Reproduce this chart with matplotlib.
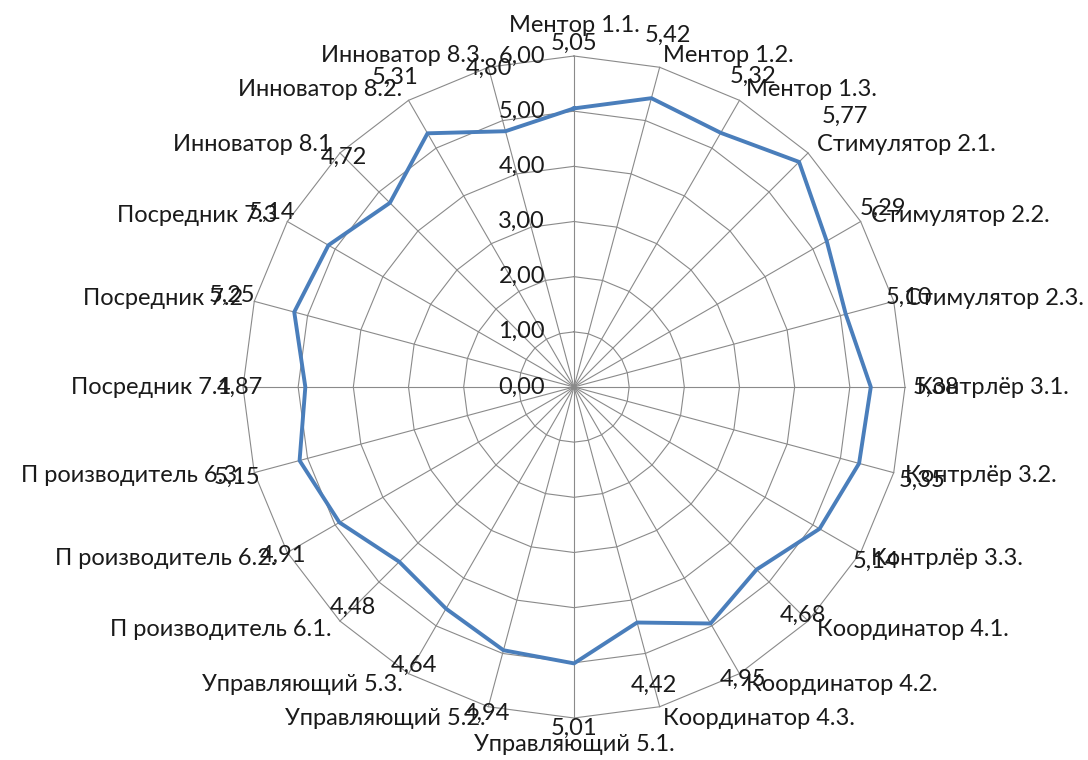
import numpy as np
import matplotlib
matplotlib.use("Agg")
import matplotlib.pyplot as plt

categories = [
    "Ментор 1.1.", "Ментор 1.2.", "Ментор 1.3.",
    "Стимулятор 2.1.", "Стимулятор 2.2.", "Стимулятор 2.3.",
    "Контрлёр 3.1.", "Контрлёр 3.2.", "Контрлёр 3.3.",
    "Координатор 4.1.", "Координатор 4.2.", "Координатор 4.3.",
    "Управляющий 5.1.", "Управляющий 5.2.", "Управляющий 5.3.",
    "П роизводитель 6.1.", "П роизводитель 6.2.", "П роизводитель 6.3.",
    "Посредник 7.1", "Посредник 7.2", "Посредник 7.3",
    "Инноватор 8.1", "Инноватор 8.2.", "Инноватор 8.3.",
]
values = [
    5.05, 5.42, 5.32,
    5.77, 5.29, 5.10,
    5.38, 5.35, 5.14,
    4.68, 4.95, 4.42,
    5.01, 4.94, 4.64,
    4.48, 4.91, 5.15,
    4.87, 5.25, 5.14,
    4.72, 5.31, 4.80,
]
ring_values = [0, 1, 2, 3, 4, 5, 6]
ring_labels = ["0,00", "1,00", "2,00", "3,00", "4,00", "5,00", "6,00"]

plt.rcParams["font.family"] = ["Lato", "DejaVu Sans"]
FONT_SIZE = 17
TEXT_COLOR = "#1a1a1a"
GRID_COLOR = "#8a8a8a"
LINE_COLOR = "#4a7ebb"

fig = plt.figure(figsize=(10.88, 7.6), dpi=100)
fig.patch.set_facecolor("white")

# polar axes centred on the web, radius = value 6
cx, cy, rad = 574 / 1088, 1 - 387 / 760, 331
ax = fig.add_axes([cx - rad / 1088, cy - rad / 760, 2 * rad / 1088, 2 * rad / 760],
                  projection="polar")
ax.set_theta_zero_location("N")
ax.set_theta_direction(-1)
ax.set_ylim(0, 6)
ax.axis("off")

n = len(categories)
theta = np.arange(n) * 2 * np.pi / n
theta_closed = np.append(theta, theta[0])

# polygonal rings and spokes
for r in ring_values[1:]:
    ax.plot(theta_closed, [r] * (n + 1), color=GRID_COLOR, lw=0.8, clip_on=False, zorder=1)
for t in theta:
    ax.plot([t, t], [0, ring_values[-1]], color=GRID_COLOR, lw=0.8, clip_on=False, zorder=1)

# data series
vals_closed = np.append(values, values[0])
ax.plot(theta_closed, vals_closed, color=LINE_COLOR, lw=2.8, clip_on=False, zorder=3,
        solid_joinstyle="round")

# ring value labels on the top spoke
for r, lbl in zip(ring_values, ring_labels):
    ax.annotate(lbl, xy=(0, r), xytext=(-29, 0), textcoords="offset pixels",
                ha="right", va="center", fontsize=FONT_SIZE, color=TEXT_COLOR,
                annotation_clip=False, zorder=4)

# category labels outside the outer ring
for t, cat in zip(theta, categories):
    s, c = np.sin(t), np.cos(t)
    if abs(s) < 0.1:
        ha = "center"
        va = "bottom" if c > 0 else "top"
        d = 20 if c > 0 else 16
    else:
        ha = "left" if s > 0 else "right"
        va = "center"
        d = 12
    ax.annotate(cat, xy=(t, ring_values[-1]), xytext=(d * s, d * c),
                textcoords="offset pixels", ha=ha, va=va, fontsize=FONT_SIZE,
                color=TEXT_COLOR, annotation_clip=False, zorder=4)

# value labels
for t, v in zip(theta, values):
    s, c = np.sin(t), np.cos(t)
    lbl = f"{v:.2f}".replace(".", ",")
    ax.annotate(lbl, xy=(t, v), xytext=(65 * s, 65 * c), textcoords="offset pixels",
                ha="center", va="center", fontsize=FONT_SIZE, color=TEXT_COLOR,
                annotation_clip=False, zorder=4)

fig.savefig("out.png", dpi=100, facecolor="white")
